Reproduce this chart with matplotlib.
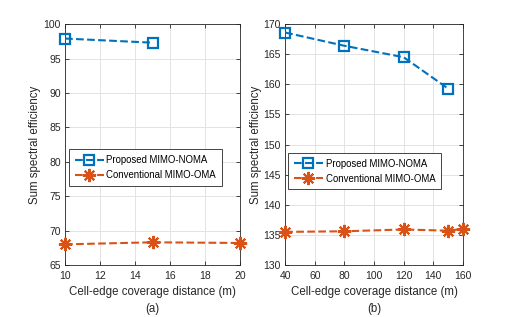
import matplotlib
matplotlib.use("Agg")
import matplotlib.pyplot as plt

# panel (a)
dist_a_noma = [10, 15]
se_a_noma = [97.9, 97.3]
dist_a_oma = [10, 15, 20]
se_a_oma = [68.0, 68.3, 68.2]

# panel (b)
dist_b_noma = [40, 80, 120, 150]
se_b_noma = [168.6, 166.4, 164.5, 159.3]
dist_b_oma = [40, 80, 120, 150, 160]
se_b_oma = [135.5, 135.6, 135.9, 135.7, 136.0]

azul = "#0072BD"
naranja = "#D95319"

plt.rcParams['font.family'] = ['Liberation Sans', 'DejaVu Sans']

fig = plt.figure(figsize=(5.12, 3.17), dpi=100)
ax1 = fig.add_axes([0.127, 0.164, 0.342, 0.760])
ax2 = fig.add_axes([0.557, 0.164, 0.347, 0.760])

def dibujar(ax, xn, yn, xo, yo, xlim, ylim, xticks, yticks, letra, leg_anchor):
    ax.plot(xn, yn, ls="--", color=azul, lw=1.5, marker="s", ms=6.5,
            mfc="none", mew=1.6, label="Proposed MIMO-NOMA", clip_on=False, zorder=3)
    ax.plot(xo, yo, ls="--", color=naranja, lw=1.5, marker=(8, 2, 0), ms=9.5,
            mew=1.5, label="Conventional MIMO-OMA", clip_on=False, zorder=3)
    ax.set_xlim(*xlim)
    ax.set_ylim(*ylim)
    ax.set_xticks(xticks)
    ax.set_yticks(yticks)
    ax.grid(True, color="#e3e3e3", lw=0.7)
    ax.set_axisbelow(True)
    ax.tick_params(direction="in", top=True, right=True, labelsize=7.5,
                   length=3, width=0.6, colors="#262626")
    ax.tick_params(axis="x", pad=4.5)
    ax.tick_params(axis="y", pad=3)
    for s in ax.spines.values():
        s.set_color("#262626")
        s.set_linewidth(0.6)
    ax.set_xlabel("Cell-edge coverage distance (m)\n(" + letra + ")", fontsize=8.3,
                  color="#262626", linespacing=1.5, labelpad=3.5)
    ax.set_ylabel("Sum spectral efficiency", fontsize=8.3, color="#262626", labelpad=1.5)
    leg = ax.legend(loc="upper left", bbox_to_anchor=leg_anchor, fontsize=6.9,
                    fancybox=False, edgecolor="#262626", framealpha=1,
                    handlelength=3.0, borderpad=0.6, labelspacing=0.5,
                    handletextpad=0.3, borderaxespad=0.0)
    leg.get_frame().set_linewidth(0.6)

dibujar(ax1, dist_a_noma, se_a_noma, dist_a_oma, se_a_oma, (10, 20), (65, 100),
        range(10, 21, 2), range(65, 101, 5), "a", (0.023, 0.48))
dibujar(ax2, dist_b_noma, se_b_noma, dist_b_oma, se_b_oma, (40, 160), (130, 170),
        range(40, 161, 20), range(130, 171, 5), "b", (0.017, 0.465))

fig.savefig("out.png", dpi=100)
